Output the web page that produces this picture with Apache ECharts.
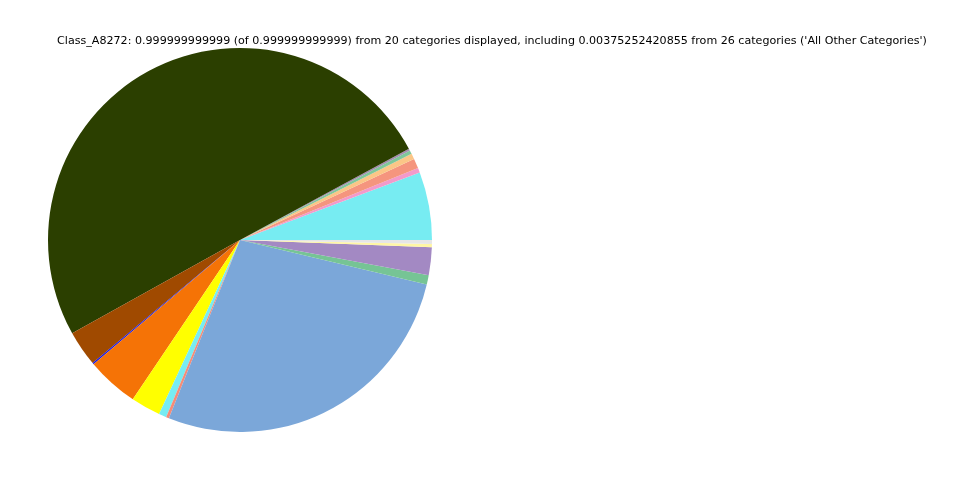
<!DOCTYPE html>
<html>
<head>
<meta charset="utf-8">
<script src="https://cdn.jsdelivr.net/npm/echarts@6/dist/echarts.min.js"></script>
<style>html,body{margin:0;padding:0;background:#fff;}#c{width:960px;height:480px;}</style>
</head>
<body>
<div id="c"></div>
<script>
var titleText = "Class_A8272: 0.999999999999 (of 0.999999999999) from 20 categories displayed, including 0.00375252420855 from 26 categories ('All Other Categories')";
var categories = ["Cat 1","Cat 2","Cat 3","Cat 4","Cat 5","Cat 6","Cat 7","Cat 8","Cat 9","Cat 10","Cat 11","Cat 12","Cat 13","Cat 14","Cat 15","Cat 16","Cat 17","All Other Categories"];
var values = [0.0572,0.0039,0.0083,0.0047,0.0031,0.0017,0.5017,0.0300,0.0012,0.0438,0.0250,0.0064,0.0025,0.2731,0.0078,0.0233,0.0028,0.0033];
var colors = ["#77ECF2","#F29ACB","#F5957E","#FBC687","#7EC79A","#A38CB0","#2B3F00","#A04A00","#1A1AE6","#F57306","#FFFF00","#77ECF2","#F58C78","#7BA7D9","#76C495","#A389C3","#FFF6A5","#E6E6E6"];

var chart = echarts.init(document.getElementById('c'), null, {renderer:'canvas'});
var data = categories.map(function(n,i){return {name:n, value:values[i], itemStyle:{color:colors[i]}};});
chart.setOption({
  animation:false,
  backgroundColor:'#ffffff',
  title:{text:titleText, left:487, top:31, textAlign:'center',
    textStyle:{fontFamily:'DejaVu Sans', fontSize:11.1, fontWeight:'normal', color:'#000'}},
  series:[{
    type:'pie',
    center:[240,240],
    radius:192,
    startAngle:0,
    clockwise:false,
    label:{show:false},
    labelLine:{show:false},
    itemStyle:{borderWidth:0},
    emphasis:{disabled:true},
    data:data
  }]
});
</script>
</body>
</html>
